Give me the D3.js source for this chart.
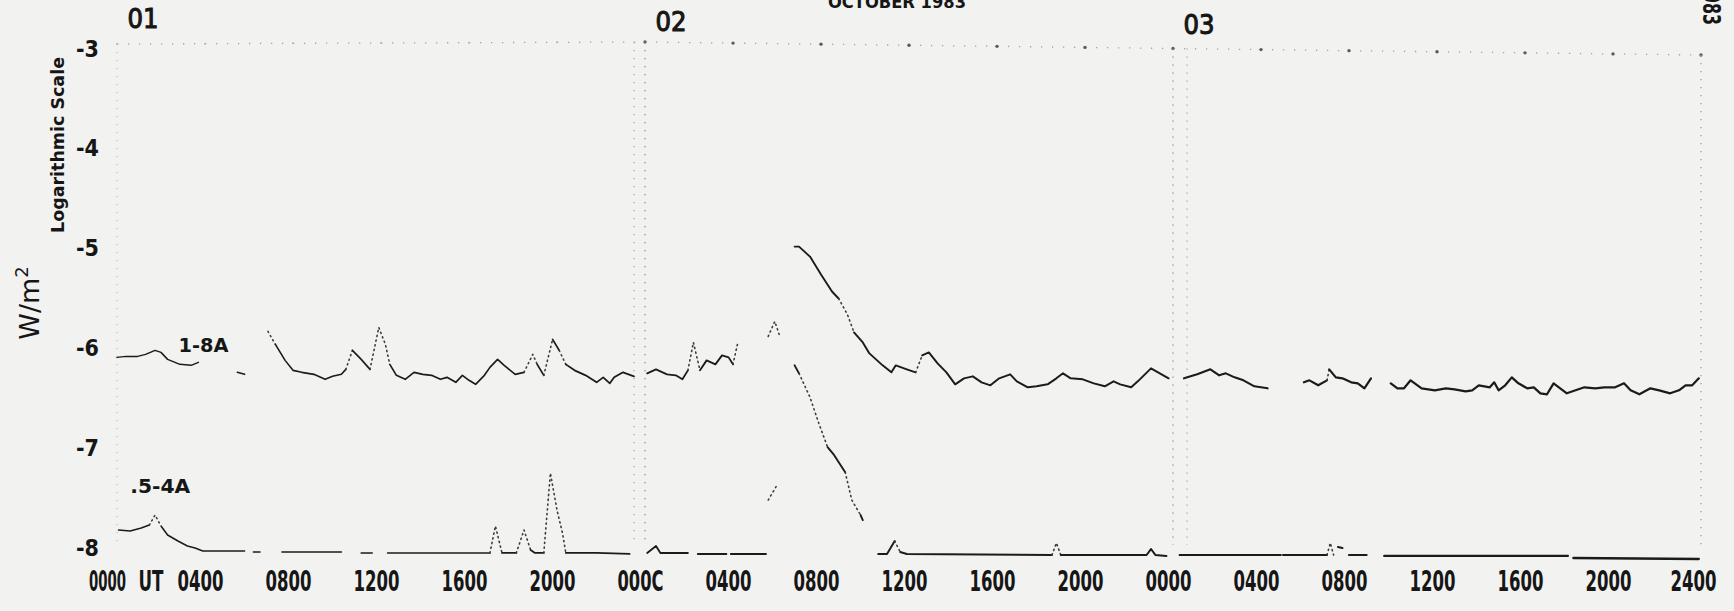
<!DOCTYPE html>
<html>
<head>
<meta charset="utf-8">
<script src="https://cdn.jsdelivr.net/npm/d3@7"></script>
<style>
  html, body { margin: 0; padding: 0; background: #f2f2f1; overflow: hidden; }
  svg { display: block; }
</style>
</head>
<body>
<svg id="chart" width="1734" height="611"></svg>
<script>
// ---------------- DATA ----------------
const hourTicks = [0, 4, 8, 12, 16, 20, 24, 28, 32, 36, 40, 44, 48, 52, 56, 60, 64, 68, 72];
const hourTickLabels = ["0000", "0400", "0800", "1200", "1600", "2000",
                        "000C", "0400", "0800", "1200", "1600", "2000",
                        "0000", "0400", "0800", "1200", "1600", "2000", "2400"];
const dayStarts = [0, 24, 48];
const dayLabels = ["01", "02", "03"];
const logTicks = [-3, -4, -5, -6, -7, -8];
const channelNames = ["1-8A", ".5-4A"];
const titleText = "OCTOBER 1983";

// 1-8 A channel: [hour since 01 Oct 0000 UT, log10(W/m^2)], null = data gap
const longChannel = [
  [0.0,-6.12],[0.4,-6.11],[0.94,-6.11],[1.3,-6.09],[1.73,-6.05],[2.0,-6.07],[2.3,-6.14],[2.86,-6.19],[3.37,-6.20],[3.7,-6.17],
  null,
  [5.47,-6.27],[5.8,-6.29],
  null,
  [6.86,-5.86],[7.2,-5.99],[7.64,-6.15],[8.0,-6.25],[8.4,-6.27],[8.95,-6.29],[9.46,-6.34],[9.8,-6.31],[10.2,-6.29],[10.4,-6.24],
  [10.7,-6.05],[11.1,-6.14],[11.5,-6.24],[11.9,-5.82],[12.2,-5.99],[12.4,-6.19],[12.7,-6.30],[13.1,-6.34],[13.5,-6.27],[13.9,-6.29],
  [14.3,-6.30],[14.7,-6.34],[15.0,-6.32],[15.4,-6.37],[15.7,-6.30],[16.0,-6.35],[16.3,-6.39],[16.7,-6.30],[16.95,-6.22],[17.3,-6.14],
  [17.6,-6.20],[18.1,-6.29],[18.5,-6.27],[18.9,-6.09],[19.1,-6.19],[19.4,-6.30],[19.8,-5.94],[20.1,-6.05],[20.4,-6.19],[20.8,-6.25],
  [21.3,-6.30],[21.8,-6.37],[22.1,-6.32],[22.4,-6.38],[22.6,-6.32],[23.0,-6.27],[23.5,-6.31],
  null,
  [24.1,-6.28],[24.5,-6.24],[25.0,-6.29],[25.4,-6.30],[25.7,-6.34],[25.95,-6.25],[26.2,-5.97],[26.5,-6.25],[26.8,-6.15],[27.2,-6.19],
  [27.5,-6.10],[27.8,-6.12],[28.0,-6.19],[28.2,-5.99],
  null,
  [29.6,-5.91],[29.9,-5.76],[30.1,-5.89],
  null,
  [30.8,-5.01],[31.0,-5.01],[31.5,-5.11],[32.0,-5.29],[32.5,-5.46],[32.8,-5.53],[33.2,-5.69],[33.5,-5.87],[33.9,-5.97],[34.2,-6.08],
  [34.8,-6.20],[35.2,-6.27],[35.4,-6.20],[35.9,-6.24],[36.3,-6.27],[36.6,-6.10],[36.9,-6.07],[37.3,-6.18],[37.7,-6.27],[38.1,-6.39],
  [38.5,-6.33],[38.9,-6.31],[39.3,-6.37],[39.7,-6.40],[40.1,-6.33],[40.6,-6.29],[40.9,-6.36],[41.4,-6.42],[41.8,-6.41],[42.3,-6.39],
  [42.7,-6.33],[43.0,-6.28],[43.35,-6.33],[43.9,-6.34],[44.4,-6.38],[44.9,-6.41],[45.3,-6.36],[45.6,-6.39],[46.1,-6.42],[46.4,-6.36],
  [47.0,-6.23],[47.4,-6.28],[47.8,-6.33],
  null,
  [48.5,-6.33],[49.1,-6.29],[49.7,-6.24],[50.1,-6.30],[50.4,-6.28],[50.8,-6.32],[51.2,-6.35],[51.7,-6.41],[52.3,-6.43],
  null,
  [53.95,-6.37],[54.2,-6.35],[54.6,-6.40],[55.0,-6.35],[55.1,-6.24],[55.4,-6.32],[55.7,-6.33],[56.1,-6.37],[56.4,-6.38],[56.7,-6.43],[57.0,-6.33],
  null,
  [57.9,-6.38],[58.2,-6.43],[58.5,-6.43],[58.8,-6.35],[59.3,-6.43],[59.9,-6.45],[60.4,-6.43],[60.8,-6.44],[61.3,-6.46],[61.6,-6.45],
  [61.9,-6.40],[62.4,-6.42],[62.6,-6.37],[62.8,-6.45],[63.1,-6.40],[63.4,-6.32],[63.7,-6.38],[64.1,-6.43],[64.4,-6.42],[64.7,-6.48],
  [65.0,-6.49],[65.3,-6.38],[65.6,-6.43],[65.9,-6.48],[66.3,-6.45],[66.7,-6.42],[67.2,-6.43],[67.6,-6.42],[68.1,-6.42],[68.5,-6.38],
  [68.8,-6.45],[69.2,-6.49],[69.7,-6.43],[70.1,-6.45],[70.6,-6.48],[71.0,-6.45],[71.3,-6.40],[71.6,-6.40],[71.9,-6.33]
];

// 0.5-4 A channel
const shortChannel = [
  [0.07,-7.85],[0.6,-7.86],[1.1,-7.83],[1.47,-7.80],[1.73,-7.70],[2.0,-7.81],[2.3,-7.90],[2.77,-7.96],[3.2,-8.01],[3.55,-8.03],[3.9,-8.06],[5.8,-8.06],
  null,
  [6.2,-8.07],[6.5,-8.07],
  null,
  [7.5,-8.07],[10.2,-8.07],
  null,
  [11.1,-8.08],[11.6,-8.08],
  null,
  [12.3,-8.08],[16.95,-8.08],[17.2,-7.81],[17.5,-8.08],[18.15,-8.08],[18.5,-7.85],[18.8,-8.05],[19.0,-8.08],[19.4,-8.08],
  [19.7,-7.28],[20.0,-7.65],[20.25,-7.88],[20.4,-8.08],[21.8,-8.08],[23.3,-8.09],
  null,
  [24.1,-8.08],[24.5,-8.01],[24.7,-8.08],[25.95,-8.08],
  null,
  [26.4,-8.09],[27.7,-8.09],
  null,
  [27.9,-8.09],[29.5,-8.09],
  null,
  [29.6,-7.55],[30.0,-7.40],
  null,
  [30.8,-6.20],[31.0,-6.28],[31.5,-6.52],[31.9,-6.78],[32.3,-7.02],[32.6,-7.10],[33.1,-7.27],[33.4,-7.55],[33.8,-7.70],[33.9,-7.75],
  null,
  [34.6,-8.09],[35.0,-8.09],[35.35,-7.96],[35.6,-8.07],[35.9,-8.09],[42.5,-8.10],[42.7,-7.98],[42.9,-8.10],[46.8,-8.10],[47.0,-8.04],[47.2,-8.10],[47.7,-8.11],
  null,
  [48.3,-8.10],[52.9,-8.10],
  null,
  [53.0,-8.10],[55.0,-8.10],[55.15,-7.98],[55.3,-8.10],
  null,
  [55.5,-8.02],[55.7,-8.03],
  null,
  [56.0,-8.10],[56.8,-8.10],
  null,
  [57.6,-8.11],[65.95,-8.11],
  null,
  [66.2,-8.13],[71.9,-8.14]
];

// ---------------- CHART ----------------
const W = 1734, H = 611;
const svg = d3.select("#chart");
const INK = "#161616";
const condensed = "'DejaVu Sans Condensed', 'Liberation Sans Narrow', 'DejaVu Sans', sans-serif";
const plain = "'DejaVu Sans', 'Liberation Sans', sans-serif";

svg.append("rect").attr("width", W).attr("height", H).attr("fill", "#f2f2f1");

const x = d3.scaleLinear().domain([0, 72]).range([117, 1701]);
const y = d3.scaleLinear().domain([-8, -3]).range([545, 46]);
// slight skew of the scanned top frame line (pixels of drift across the record)
const topDrift = d3.scaleLinear().domain([0, 24, 72]).range([-2, -4, 9]);

// squeeze a text horizontally to a target width (real glyph scaling, keeps bbox honest)
function squeeze(sel, target, dx) {
  sel.each(function (d, i) {
    const t = d3.select(this);
    const len = this.getComputedTextLength() || 1;
    const w = typeof target === "function" ? target(d, i) : target;
    const off = typeof dx === "function" ? dx(d, i) : (dx || 0);
    const base = t.attr("x") ? +t.attr("x") : 0;
    t.attr("x", 0).attr("transform", `translate(${base + off},0) scale(${w / len},1)`);
  });
}

// ---- dotted frame / grid ----
const grid = svg.append("g");
grid.append("path")
  .datum([0, 24, 72])
  .attr("d", d3.line().x(t => x(t)).y(t => y(-3) + topDrift(t)))
  .attr("fill", "none")
  .attr("stroke", "#a2a2a2").attr("stroke-width", 1.3)
  .attr("stroke-dasharray", "1.3 9.7");
grid.selectAll("circle.hr").data(hourTicks).join("circle")
  .attr("cx", d => x(d)).attr("cy", d => y(-3) + topDrift(d)).attr("r", d => d >= 24 ? 1.7 : 1.0)
  .attr("fill", d => d >= 24 ? "#5a5a5a" : "#b4b4b4");

const vLines = [
  { t: 0, off: 0, c: "#c4c4c4" },
  { t: 24, off: -11, c: "#a8a8a8" },
  { t: 24, off: 0, c: "#8e8e8e" },
  { t: 48, off: 0, c: "#8e8e8e" },
  { t: 48, off: 14, c: "#a8a8a8" },
  { t: 72, off: 0, c: "#9a9a9a" }
];
grid.selectAll("line.v").data(vLines).join("line")
  .attr("x1", d => x(d.t) + d.off).attr("x2", d => x(d.t) + d.off)
  .attr("y1", d => y(-3) + topDrift(d.t)).attr("y2", y(-8))
  .attr("stroke", d => d.c).attr("stroke-width", 1.3)
  .attr("stroke-dasharray", "1.3 6.7");

// ---- series ----
const line = d3.line().x(d => x(d[0])).y(d => y(d[1]));
const inkWidth = d3.scaleLinear().domain([0, 72]).range([1.5, 2.4]);

function drawChannel(data) {
  const g = svg.append("g").attr("fill", "none");
  const runs = [];
  let cur = [];
  data.forEach(p => {
    if (p === null) { if (cur.length) runs.push(cur); cur = []; }
    else cur.push(p);
  });
  if (cur.length) runs.push(cur);

  runs.forEach(run => {
    let style = null, pts = [];
    const flush = () => {
      if (pts.length > 1) {
        const p = g.append("path").datum(pts).attr("d", line)
          .attr("stroke-linejoin", "round").attr("stroke-linecap", "round");
        if (style === "steep") {
          p.attr("stroke", "#3c3c3c").attr("stroke-width", 1.6).attr("stroke-dasharray", "1.2 3.6");
        } else {
          p.attr("stroke", "#1b1b1b").attr("stroke-width", inkWidth(pts[0][0]));
        }
      }
    };
    for (let i = 1; i < run.length; i++) {
      const a = run[i - 1], b = run[i];
      const dx = Math.abs(x(b[0]) - x(a[0])), dy = Math.abs(y(b[1]) - y(a[1]));
      const s = (dy > 1.7 * dx && dy > 8) ? "steep" : "solid";
      if (s !== style) { flush(); style = s; pts = [a]; }
      pts.push(b);
    }
    flush();
  });
}
drawChannel(longChannel);
drawChannel(shortChannel);

// ---- x axis ----
const xAxis = d3.axisBottom(x).tickValues(hourTicks)
  .tickFormat((d, i) => hourTickLabels[i]).tickSize(0).tickPadding(0);
const gx = svg.append("g").attr("transform", `translate(0,${y(-8) + 46})`).call(xAxis);
gx.select(".domain").remove();
const xt = gx.selectAll("text")
  .attr("y", 0).attr("dy", 0).attr("x", 0)
  .attr("font-family", condensed).attr("font-size", 28).attr("font-weight", "bold")
  .attr("fill", INK);
squeeze(xt, d => d === 0 ? 37 : 46, d => d === 0 ? -10 : (d === 72 ? -8 : -5));

const ut = svg.append("text").text("UT")
  .attr("x", x(0) + 34).attr("y", y(-8) + 46).attr("text-anchor", "middle")
  .attr("font-family", condensed).attr("font-size", 28).attr("font-weight", "bold")
  .attr("fill", INK);
squeeze(ut, 25, 0);

// ---- y axis ----
const yAxis = d3.axisLeft(y).tickValues(logTicks)
  .tickFormat(d => "-" + Math.abs(d)).tickSize(0).tickPadding(0);
const gy = svg.append("g").attr("transform", `translate(${x(0) - 18},0)`).call(yAxis);
gy.select(".domain").remove();
gy.selectAll("text")
  .attr("x", 0).attr("dy", 10)
  .attr("font-family", condensed).attr("font-size", 23).attr("font-weight", "bold")
  .attr("fill", INK);

// ---- axis titles ----
svg.append("text")
  .attr("transform", "translate(64,145) rotate(-90)")
  .attr("text-anchor", "middle")
  .attr("font-family", plain).attr("font-size", 17).attr("font-weight", "bold")
  .attr("fill", INK).attr("textLength", 176).attr("lengthAdjust", "spacingAndGlyphs")
  .text("Logarithmic Scale");

const wm = svg.append("text")
  .attr("transform", "translate(39,303) rotate(-90)")
  .attr("text-anchor", "middle")
  .attr("font-family", plain).attr("font-size", 27)
  .attr("fill", INK);
wm.append("tspan").text("W/m");
wm.append("tspan").attr("dy", -11).attr("font-size", 18).text("2");

// ---- day labels ----
svg.selectAll("text.day").data(dayStarts).join("text")
  .attr("x", d => x(d) + 26).attr("y", (d, i) => 28 + 3 * i)
  .attr("text-anchor", "middle")
  .attr("font-family", plain).attr("font-size", 27)
  .attr("fill", INK).attr("stroke", INK).attr("stroke-width", 1.1)
  .attr("textLength", 31).attr("lengthAdjust", "spacingAndGlyphs")
  .text((d, i) => dayLabels[i]);

// ---- title (cut by the top edge as in the scan) ----
svg.append("text")
  .attr("x", 897).attr("y", 8).attr("text-anchor", "middle")
  .attr("font-family", condensed).attr("font-size", 17).attr("font-weight", "bold")
  .attr("fill", INK).attr("textLength", 138).attr("lengthAdjust", "spacingAndGlyphs")
  .text(titleText);

svg.append("text")
  .attr("transform", `translate(${x(72) + 2},25) rotate(90)`)
  .attr("text-anchor", "end")
  .attr("font-family", condensed).attr("font-size", 25).attr("font-weight", "bold")
  .attr("fill", INK).attr("textLength", 44).attr("lengthAdjust", "spacingAndGlyphs")
  .text("1983");

// ---- channel labels ----
svg.append("text")
  .attr("x", x(2.8)).attr("y", y(-6) + 7)
  .attr("font-family", condensed).attr("font-size", 19).attr("font-weight", "bold")
  .attr("fill", INK).attr("textLength", 50).attr("lengthAdjust", "spacingAndGlyphs")
  .text(channelNames[0]);
svg.append("text")
  .attr("x", x(0.6)).attr("y", y(-7.5) - 2)
  .attr("font-family", condensed).attr("font-size", 19).attr("font-weight", "bold")
  .attr("fill", INK).attr("textLength", 60).attr("lengthAdjust", "spacingAndGlyphs")
  .text(channelNames[1]);
</script>
</body>
</html>
